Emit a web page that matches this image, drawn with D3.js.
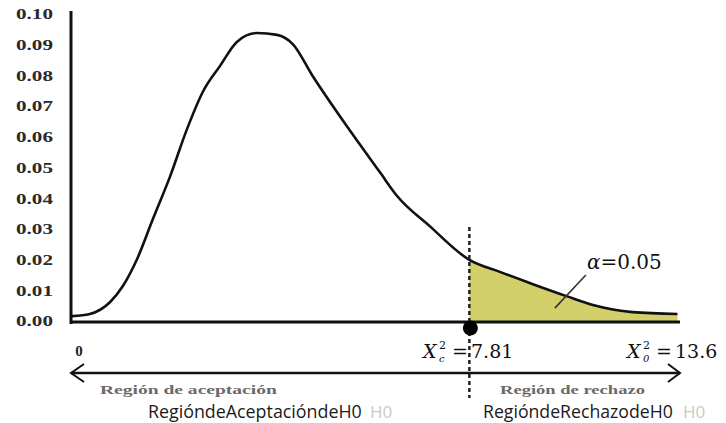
<!DOCTYPE html>
<html>
<head>
<meta charset="utf-8">
<script src="https://cdnjs.cloudflare.com/ajax/libs/d3/7.8.5/d3.min.js"></script>
<style>
  body { margin: 0; background: #fff; }
  .tick text { font-family: "Liberation Serif", serif; font-weight: bold; font-size: 15px; fill: #2a2a2a; }
</style>
</head>
<body>
<div id="chart"></div>
<script>
// values
var curveX = [0, 0.35, 0.75, 1.0, 1.28, 1.59, 1.93, 2.26, 2.57, 2.91, 3.24, 3.63, 4.03, 4.34, 4.73, 5.40, 6.05, 6.39, 7.03, 7.81, 8.41, 9.06, 9.72, 10.24, 11.02, 11.9];
var curveY = [0.0016, 0.0023, 0.0062, 0.0114, 0.0202, 0.0332, 0.0472, 0.0625, 0.0746, 0.0831, 0.0909, 0.0938, 0.0932, 0.0902, 0.0798, 0.0635, 0.0485, 0.0407, 0.0309, 0.0199, 0.016, 0.012, 0.0081, 0.0052, 0.0029, 0.0023];
var yTicks = [0, 0.01, 0.02, 0.03, 0.04, 0.05, 0.06, 0.07, 0.08, 0.09, 0.10];
var critical = 7.81;
var observed = 13.6;
var alpha = 0.05;
var regionLabels = ["Región de aceptación", "Región de rechazo"];
var overlayLabels = ["RegióndeAceptacióndeH0", "RegióndeRechazodeH0"];

var width = 726, height = 423;

var svg = d3.select("#chart")
    .append("svg")
    .attr("width", width)
    .attr("height", height);

var x = d3.scaleLinear().domain([0, 11.95]).range([72, 680]);
var y = d3.scaleLinear().domain([0, 0.10]).range([321, 14]);

var points = curveX.map(function (d, i) { return [d, curveY[i]]; });

// shaded rejection area
var area = d3.area()
    .x(function (d) { return x(d[0]); })
    .y0(y(0))
    .y1(function (d) { return y(d[1]); })
    .curve(d3.curveMonotoneX);

svg.append("path")
    .datum(points.filter(function (d) { return d[0] >= critical; }))
    .attr("d", area)
    .style("fill", "#d3cf6b");

// y axis
var yAxis = svg.append("g")
    .attr("transform", "translate(" + x(0) + ",0)")
    .call(d3.axisLeft(y).tickValues(yTicks).tickSize(0).tickPadding(19).tickFormat(d3.format(".2f")));
yAxis.select(".domain").remove();
yAxis.selectAll(".tick text").attr("textLength", 37).attr("lengthAdjust", "spacingAndGlyphs");

svg.append("line")
    .attr("x1", x(0) - 1).attr("x2", x(0) - 1)
    .attr("y1", y(0) + 3).attr("y2", y(0.10) - 3)
    .style("stroke", "#111").style("stroke-width", 3);

// x axis line
svg.append("line")
    .attr("x1", x(0) - 2).attr("x2", x(11.95))
    .attr("y1", y(0) + 1).attr("y2", y(0) + 1)
    .style("stroke", "#111").style("stroke-width", 3);

// the curve
var line = d3.line()
    .x(function (d) { return x(d[0]); })
    .y(function (d) { return y(d[1]); })
    .curve(d3.curveMonotoneX);

svg.append("path")
    .datum(points)
    .attr("d", line)
    .style("fill", "none")
    .style("stroke", "#111")
    .style("stroke-width", 2.6);

// critical value dashed line and dot
svg.append("line")
    .attr("x1", x(critical)).attr("x2", x(critical))
    .attr("y1", 227).attr("y2", 398)
    .style("stroke", "#222").style("stroke-width", 2.5)
    .style("stroke-dasharray", "4,3");

svg.append("circle")
    .attr("cx", x(critical) + 1).attr("cy", y(0) + 7).attr("r", 7.5)
    .style("fill", "#000");

// alpha annotation
svg.append("line")
    .attr("x1", x(9.49)).attr("y1", y(0.0042))
    .attr("x2", x(10.1)).attr("y2", y(0.0150))
    .style("stroke", "#333").style("stroke-width", 1.6);

var aText = svg.append("text")
    .attr("x", 587).attr("y", 269)
    .style("font-family", "DejaVu Serif, serif").style("font-size", "20px").style("fill", "#111");
aText.append("tspan").style("font-style", "italic").text("α");
aText.append("tspan").text("=" + alpha.toFixed(2));

// chi-square labels
function chiLabel(x0, sub, value) {
    var g = svg.append("g").style("font-family", "DejaVu Serif, serif").style("fill", "#111");
    g.append("text").attr("x", x0).attr("y", 358).style("font-size", "19px").style("font-style", "italic").text("X");
    g.append("text").attr("x", x0 + 16).attr("y", 349).style("font-size", "11px").text("2");
    g.append("text").attr("x", x0 + 16).attr("y", 362).style("font-size", "10px").style("font-style", "italic").text(sub);
    g.append("text").attr("x", x0 + 29).attr("y", 358).style("font-size", "19px").text("=");
    g.append("text").attr("x", x0 + 48).attr("y", 358).style("font-size", "19px").text(value);
}
chiLabel(423, "c", critical.toFixed(2));
chiLabel(627, "0", observed.toFixed(1));

// zero label
svg.append("text")
    .attr("x", x(0) + 7).attr("y", 356)
    .attr("text-anchor", "middle")
    .style("font-family", "Liberation Serif, serif").style("font-weight", "bold")
    .style("font-size", "15px").style("fill", "#222")
    .text("0");

// double arrow
var arrowY = 373;
svg.append("line")
    .attr("x1", x(0) - 1).attr("x2", x(11.95))
    .attr("y1", arrowY).attr("y2", arrowY)
    .style("stroke", "#111").style("stroke-width", 2.5);
svg.append("path")
    .attr("d", "M" + (x(0) + 12) + "," + (arrowY - 9) + "L" + (x(0) - 1) + "," + arrowY + "L" + (x(0) + 12) + "," + (arrowY + 9))
    .style("fill", "none").style("stroke", "#111").style("stroke-width", 2);
svg.append("path")
    .attr("d", "M" + (x(11.95) - 12) + "," + (arrowY - 9) + "L" + x(11.95) + "," + arrowY + "L" + (x(11.95) - 12) + "," + (arrowY + 9))
    .style("fill", "none").style("stroke", "#111").style("stroke-width", 2);

// squeeze a text horizontally so it spans the given width
function fitWidth(sel, x0, y0, w) {
    var natural = sel.node().getComputedTextLength();
    sel.attr("transform", "translate(" + x0 + "," + y0 + ") scale(" + (w / natural) + ",1)");
}

// region labels
var regionPos = [[100, 177], [500, 145]];
regionLabels.forEach(function (t, i) {
    var el = svg.append("text")
        .style("font-family", "Liberation Serif, serif").style("font-weight", "bold")
        .style("font-size", "13.5px").style("fill", "#6a6a6a")
        .text(t);
    fitWidth(el, regionPos[i][0], 394, regionPos[i][1]);
});

var overlayPos = [[148, 214, 370], [483, 190, 683]];
overlayLabels.forEach(function (t, i) {
    var el = svg.append("text")
        .style("font-family", "Open Sans, sans-serif")
        .style("font-size", "18px").style("fill", "#1a1a1a")
        .text(t);
    fitWidth(el, overlayPos[i][0], 418, overlayPos[i][1]);
    svg.append("text")
        .attr("x", overlayPos[i][2]).attr("y", 418)
        .style("font-family", "Open Sans, sans-serif")
        .style("font-size", "17px").style("fill", "#c9c9c9")
        .text("H0");
});
</script>
</body>
</html>
